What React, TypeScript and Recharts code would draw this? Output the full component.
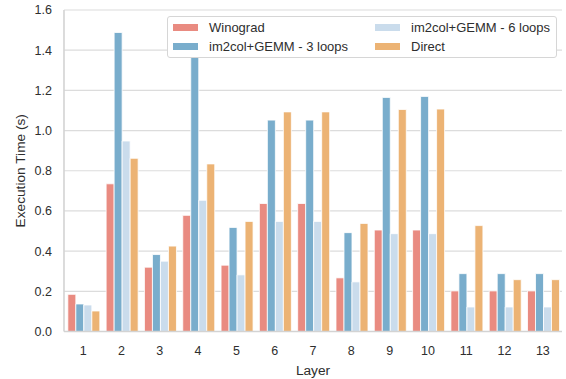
import React from 'react';
import { BarChart, Bar, XAxis, YAxis, CartesianGrid, Legend } from 'recharts';

const layers = ['1', '2', '3', '4', '5', '6', '7', '8', '9', '10', '11', '12', '13'];
const winograd = [0.185, 0.735, 0.32, 0.578, 0.33, 0.637, 0.637, 0.267, 0.505, 0.505, 0.202, 0.202, 0.202];
const gemm3 = [0.137, 1.488, 0.383, 1.42, 0.518, 1.052, 1.052, 0.492, 1.165, 1.17, 0.288, 0.288, 0.288];
const gemm6 = [0.132, 0.948, 0.35, 0.653, 0.282, 0.548, 0.548, 0.247, 0.487, 0.487, 0.122, 0.122, 0.122];
const direct = [0.102, 0.862, 0.425, 0.834, 0.548, 1.093, 1.093, 0.538, 1.105, 1.107, 0.527, 0.258, 0.258];
const yTicks = [0, 0.2, 0.4, 0.6, 0.8, 1.0, 1.2, 1.4, 1.6];

const seriesNames = ['Winograd', 'im2col+GEMM - 3 loops', 'im2col+GEMM - 6 loops', 'Direct'];
const seriesKeys = ['winograd', 'gemm3', 'gemm6', 'direct'];
const seriesColors = ['#e98b81', '#79adcc', '#cadcec', '#ecb374'];

const data = layers.map((l, i) => ({
  layer: l,
  winograd: winograd[i],
  gemm3: gemm3[i],
  gemm6: gemm6[i],
  direct: direct[i],
}));

const FONT = '"Liberation Sans", Arial, sans-serif';
const TEXT = '#2e2e2e';
const FRAME = '#d3d3d3';

const legendOrder = [0, 2, 1, 3];

const LegendBox = () => (
  <div
    style={{
      boxSizing: 'border-box',
      width: 390,
      height: 42,
      background: '#fff',
      border: '1px solid #d6d6d6',
      borderRadius: 3,
      display: 'grid',
      gridTemplateColumns: '202px 186px',
      gridTemplateRows: '19px 19px',
      paddingTop: 1,
      fontFamily: FONT,
      fontSize: 13,
      color: TEXT,
    }}
  >
    {legendOrder.map((idx) => (
      <div key={idx} style={{ display: 'flex', alignItems: 'center', paddingLeft: 5, whiteSpace: 'nowrap' }}>
        <span style={{ display: 'inline-block', width: 25, height: 7, background: seriesColors[idx], marginRight: 11 }} />
        <span>{seriesNames[idx]}</span>
      </div>
    ))}
  </div>
);

export default function App() {
  return (
    <div style={{ position: 'absolute', left: 0, top: 0 }}>
      <BarChart
        width={566}
        height={379}
        data={data}
        margin={{ top: 10, right: 4, bottom: 0, left: 0 }}
        barCategoryGap="10%"
        barGap={0}
      >
        <CartesianGrid vertical={false} stroke="#dcdcdc" strokeWidth={1.2} />
        <XAxis
          dataKey="layer"
          height={47.5}
          axisLine={{ stroke: FRAME, strokeWidth: 1.6 }}
          tickLine={false}
          tickSize={6}
          tickMargin={9}
          tick={{ fill: TEXT, fontSize: 12.5, fontFamily: FONT }}
          label={{ value: 'Layer', position: 'insideBottom', offset: 4, fill: TEXT, fontSize: 13.7, fontFamily: FONT }}
        />
        <XAxis
          xAxisId="top"
          dataKey="layer"
          orientation="top"
          height={0}
          tick={false}
          tickLine={false}
          axisLine={{ stroke: FRAME, strokeWidth: 1.6 }}
        />
        <YAxis
          width={64}
          domain={[0, 1.6]}
          ticks={yTicks}
          tickFormatter={(v: number) => v.toFixed(1)}
          axisLine={{ stroke: FRAME, strokeWidth: 1.6 }}
          tickLine={false}
          tickSize={6}
          tickMargin={6}
          tick={{ fill: TEXT, fontSize: 12.5, fontFamily: FONT }}
          label={{
            value: 'Execution Time (s)',
            angle: -90,
            position: 'insideLeft',
            offset: 20,
            fill: TEXT,
            fontSize: 13.7,
            fontFamily: FONT,
            style: { textAnchor: 'middle' },
          }}
        />
        <YAxis
          yAxisId="right"
          orientation="right"
          width={0}
          tick={false}
          tickLine={false}
          axisLine={{ stroke: FRAME, strokeWidth: 1.6 }}
        />
        <Legend
          layout="horizontal"
          verticalAlign="middle"
          align="center"
          wrapperStyle={{ position: 'absolute', left: 167, top: 16, width: 390, height: 42 }}
          content={() => <LegendBox />}
        />
        {seriesKeys.map((k, i) => (
          <Bar
            key={k}
            dataKey={k}
            name={seriesNames[i]}
            fill={seriesColors[i]}
            stroke="#ffffff"
            strokeWidth={0.8}
            isAnimationActive={false}
          />
        ))}
      </BarChart>
    </div>
  );
}
